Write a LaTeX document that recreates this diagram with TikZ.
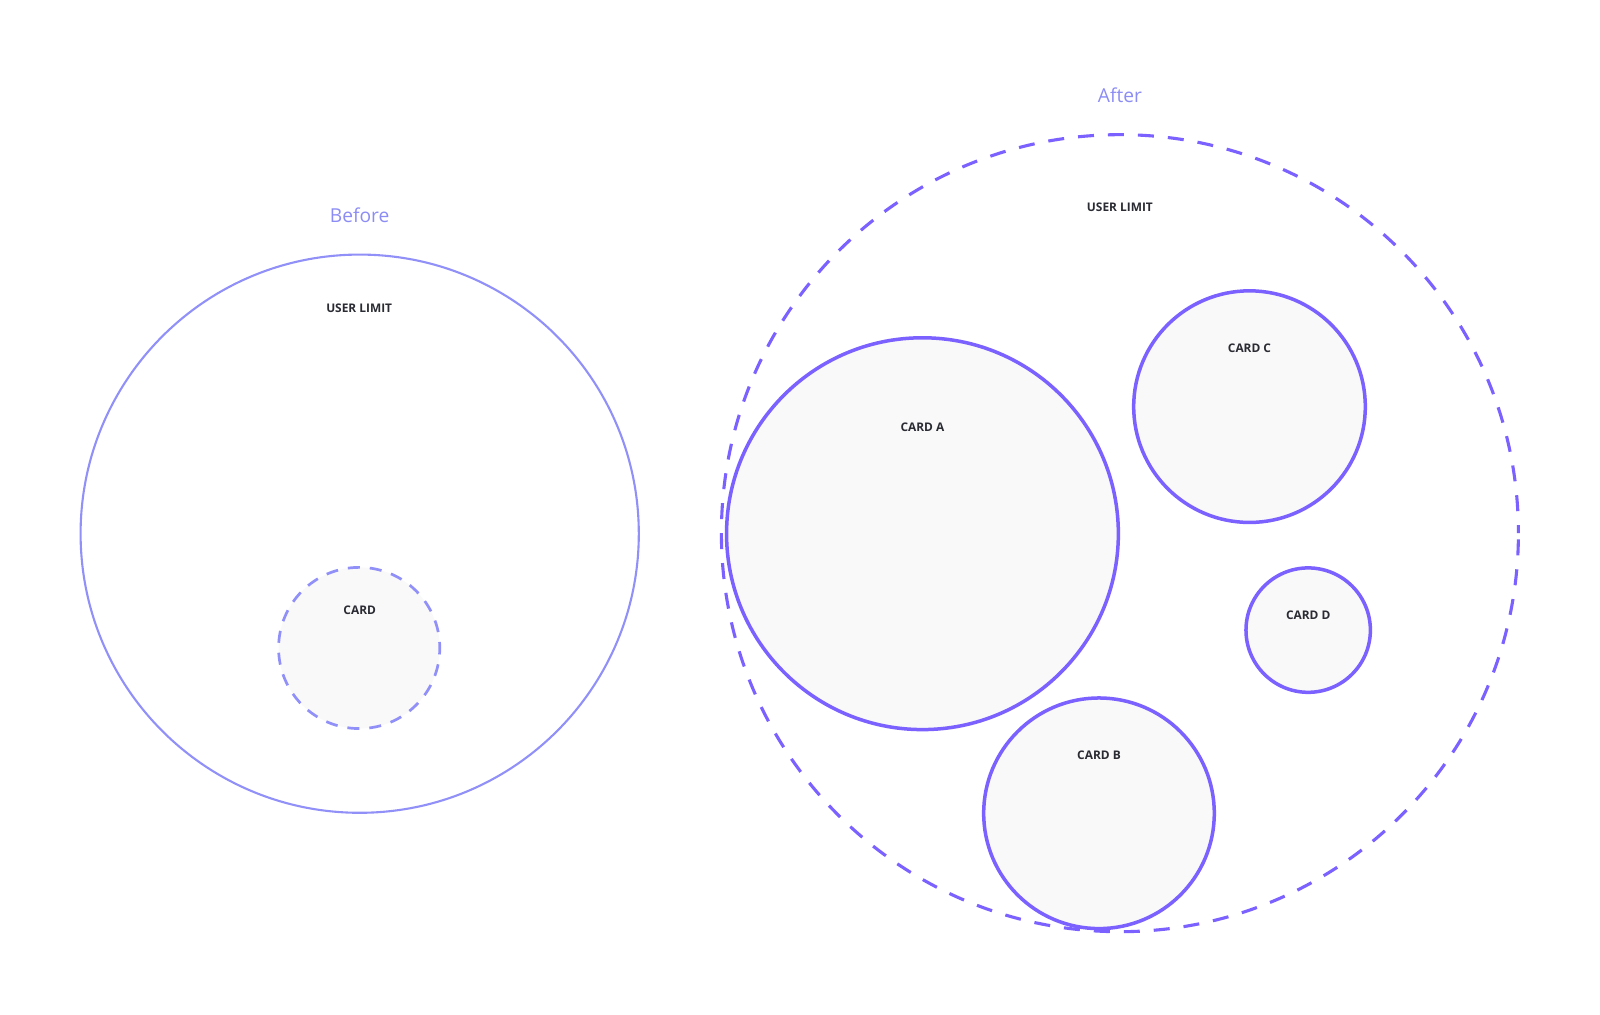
\documentclass[tikz,border=0pt]{standalone}
\usepackage{fontspec}
\setmainfont{Open Sans}
\definecolor{softpurple}{HTML}{9090F8}
\definecolor{strongpurple}{HTML}{7B61FF}
\definecolor{titlepurple}{HTML}{8C8CF5}
\definecolor{cardfill}{HTML}{F9F9F9}
\definecolor{labeltext}{HTML}{2A2B33}
\begin{document}
\begin{tikzpicture}[x=0.5102pt,y=-0.5102pt,
  title/.style={text=titlepurple,font=\fontsize{9.6}{11}\selectfont,inner sep=0pt,anchor=center},
  lbl/.style={text=labeltext,font=\bfseries\fontsize{5.95}{7}\selectfont,inner sep=0pt,anchor=center},
  ring/.style={circle,inner sep=0pt,outer sep=0pt,minimum size=#1},
  card/.style={ring=#1,draw=strongpurple,fill=cardfill,line width=1.75pt}
]
\path[use as bounding box] (0,0) rectangle (1568,994);
% Before
\node[ring=279.1pt,draw=softpurple,line width=1.05pt] (beforelimit) at (352.5,523) {};
\node[title] (beforetitle) at (352.5,211) {Before};
\node[lbl] (beforeuser) at (352,302) {USER LIMIT};
\node[ring=80.6pt,draw=softpurple,fill=cardfill,line width=1.35pt,dash pattern=on 6pt off 5pt,dash phase=3pt] (card) at (352,635) {};
\node[lbl] (cardlbl) at (352.5,598) {CARD};
% After
\node[ring=398.5pt,draw=strongpurple,line width=1.55pt,dash pattern=on 8pt off 7pt,dash phase=4pt] (afterlimit) at (1097.5,522.5) {};
\node[title] (aftertitle) at (1097.5,93) {After};
\node[lbl] (afteruser) at (1097.5,203) {USER LIMIT};
\node[card=195.9pt] (carda) at (904,523) {};
\node[lbl] (cardalbl) at (904,419) {CARD A};
\node[card=115.8pt] (cardc) at (1224.5,398.5) {};
\node[lbl] (cardclbl) at (1224.5,341) {CARD C};
\node[card=62.2pt] (cardd) at (1282,617.5) {};
\node[lbl] (carddlbl) at (1282,603) {CARD D};
\node[card=115.3pt] (cardb) at (1077,797) {};
\node[lbl] (cardblbl) at (1077,740) {CARD B};
\end{tikzpicture}
\end{document}
